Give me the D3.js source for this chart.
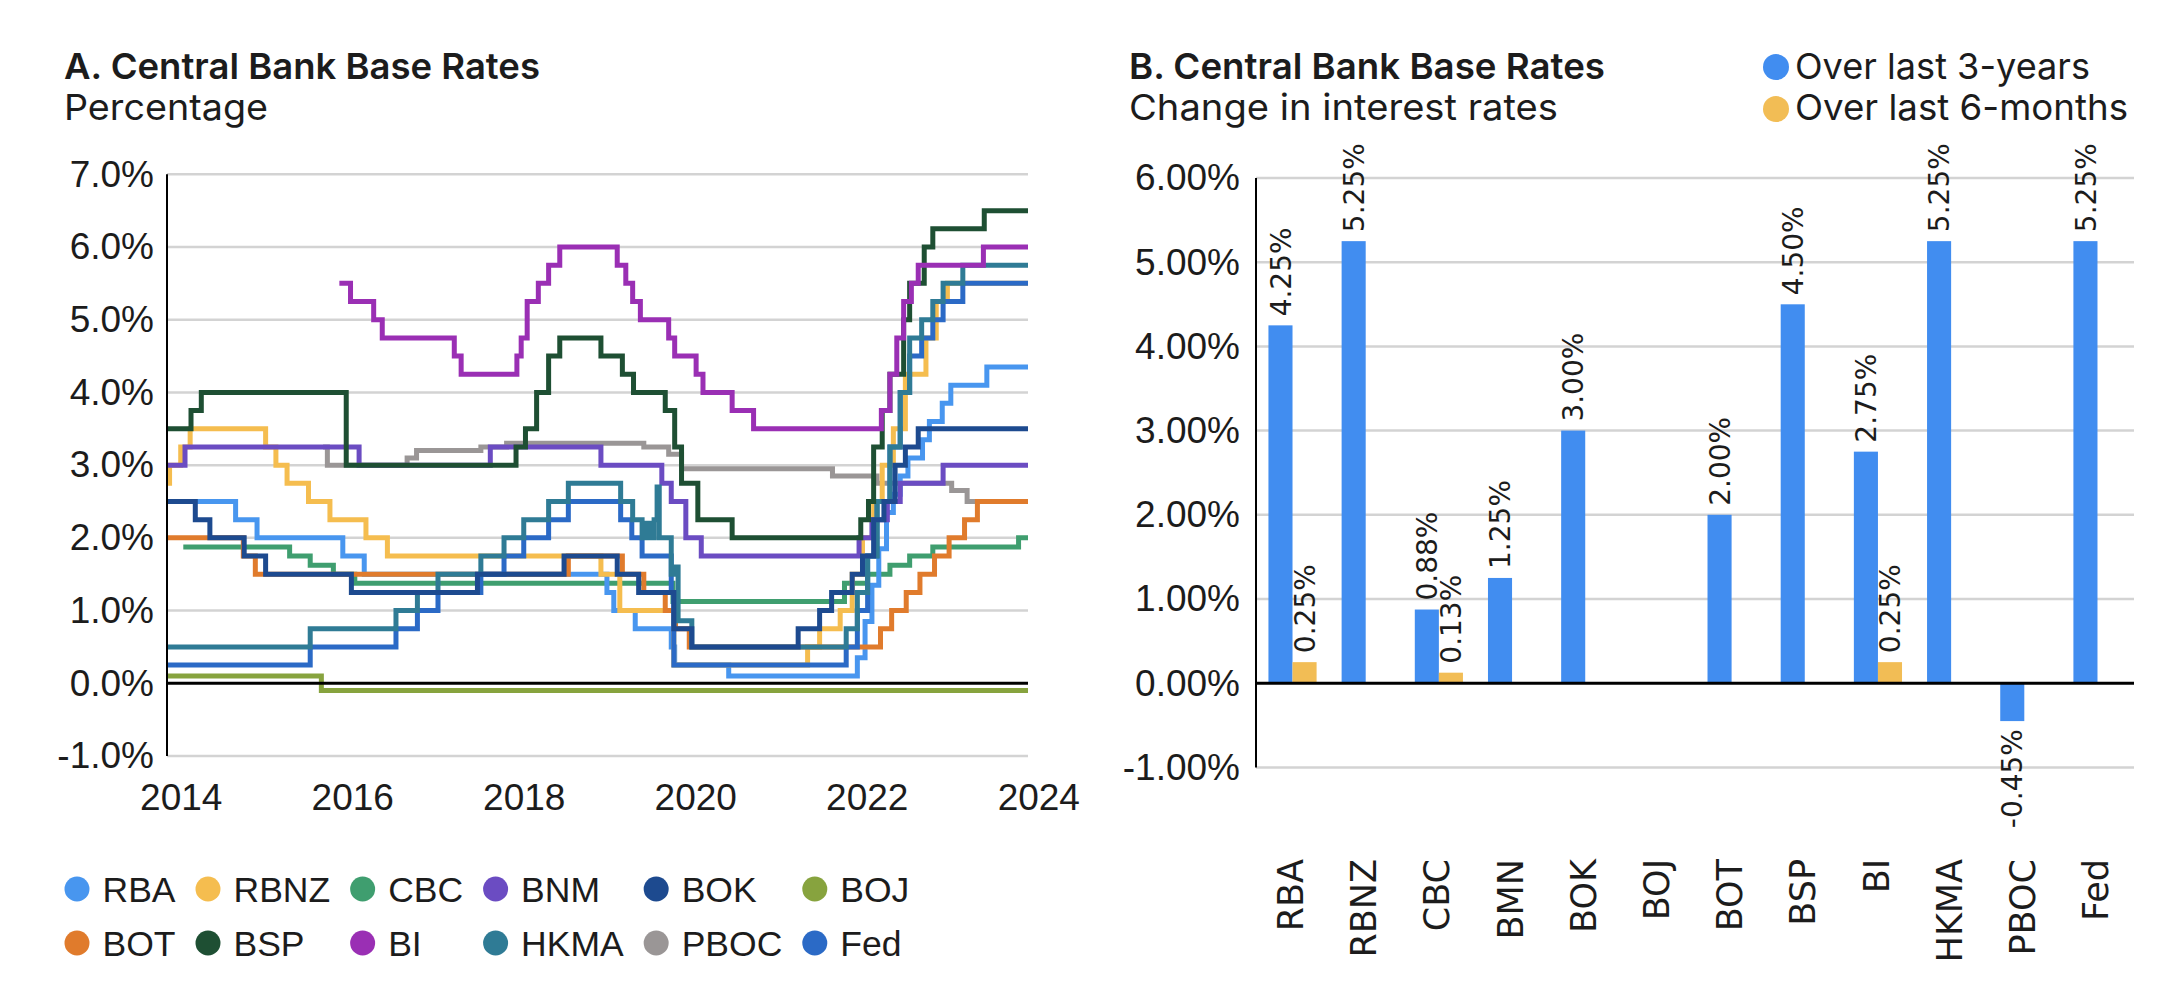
<!DOCTYPE html>
<html><head><meta charset="utf-8">
<script src="https://cdn.jsdelivr.net/npm/d3@7"></script>
<style>html,body{margin:0;padding:0;background:#fff}svg{display:block}</style>
</head><body>
<svg id="chart" width="2170" height="1005"></svg>
<script>
// ---------------- DATA ----------------
const banks = ["RBA","RBNZ","CBC","BNM","BOK","BOJ","BOT","BSP","BI","HKMA","PBOC","Fed"];
const bankColors = ["#4896ef","#f5bd4f","#3f9e6f","#6b4cc2","#1d4a8f","#87a33e","#e07b2c","#1e4f33","#9a2fb4","#2f7b95","#9a9696","#2b6ac6"];

// step series: [decimal year on chart axis, rate %]
const RBA  = [[2013.84,2.5],[2014.64,2.25],[2014.89,2.0],[2015.89,1.75],[2016.14,1.5],[2018.97,1.25],[2019.05,1.0],[2019.30,0.75],[2019.72,0.5],[2019.76,0.25],[2020.39,0.1],[2021.89,0.35],[2021.98,0.85],[2022.06,1.35],[2022.14,1.85],[2022.23,2.35],[2022.31,2.6],[2022.39,2.85],[2022.48,3.1],[2022.65,3.35],[2022.73,3.6],[2022.88,3.85],[2022.98,4.1],[2023.40,4.35]];
const RBNZ = [[2013.84,2.75],[2013.87,3.0],[2014.00,3.25],[2014.11,3.5],[2014.99,3.25],[2015.11,3.0],[2015.24,2.75],[2015.49,2.5],[2015.74,2.25],[2016.16,2.0],[2016.41,1.75],[2018.90,1.5],[2019.12,1.0],[2019.75,0.25],[2021.31,0.5],[2021.45,0.75],[2021.69,1.0],[2021.83,1.5],[2021.95,2.0],[2022.08,2.5],[2022.18,3.0],[2022.31,3.5],[2022.45,4.25],[2022.69,4.75],[2022.81,5.25],[2022.94,5.5]];
const CBC  = [[2014.03,1.875],[2015.27,1.75],[2015.51,1.625],[2015.78,1.5],[2016.03,1.375],[2019.74,1.125],[2021.74,1.375],[2022.01,1.5],[2022.27,1.625],[2022.50,1.75],[2022.77,1.875],[2023.77,2.0]];
const BNM  = [[2013.84,3.0],[2014.05,3.25],[2016.08,3.0],[2017.61,3.25],[2018.90,3.0],[2019.61,2.75],[2019.72,2.5],[2019.89,2.0],[2020.07,1.75],[2021.91,2.0],[2022.06,2.25],[2022.24,2.5],[2022.39,2.75],[2022.89,3.0]];
const BOK  = [[2013.84,2.5],[2014.17,2.25],[2014.34,2.0],[2014.74,1.75],[2014.99,1.5],[2015.99,1.25],[2017.46,1.5],[2018.47,1.75],[2019.09,1.5],[2019.34,1.25],[2019.75,0.75],[2019.96,0.5],[2021.20,0.75],[2021.45,1.0],[2021.59,1.25],[2021.83,1.5],[2021.95,1.75],[2022.08,2.25],[2022.20,2.5],[2022.33,3.0],[2022.45,3.25],[2022.60,3.5]];
const BOJ  = [[2013.84,0.1],[2015.64,-0.1]];
const BOT  = [[2013.84,2.0],[2014.73,1.75],[2014.87,1.5],[2018.52,1.75],[2019.15,1.5],[2019.40,1.25],[2019.65,1.0],[2019.77,0.75],[2019.93,0.5],[2022.16,0.75],[2022.29,1.0],[2022.46,1.25],[2022.62,1.5],[2022.79,1.75],[2022.96,2.0],[2023.14,2.25],[2023.29,2.5]];
const BSP  = [[2013.84,3.5],[2014.12,3.75],[2014.24,4.0],[2015.93,3.0],[2017.91,3.25],[2018.02,3.5],[2018.15,4.0],[2018.29,4.5],[2018.42,4.75],[2018.90,4.5],[2019.15,4.25],[2019.28,4.0],[2019.65,3.75],[2019.76,3.25],[2019.84,2.75],[2020.03,2.25],[2020.43,2.0],[2021.93,2.25],[2022.02,2.5],[2022.08,3.25],[2022.18,3.75],[2022.27,4.25],[2022.43,5.0],[2022.50,5.5],[2022.67,6.0],[2022.77,6.25],[2023.37,6.5]];
const BI   = [[2015.85,5.5],[2015.98,5.25],[2016.25,5.0],[2016.35,4.75],[2017.19,4.5],[2017.27,4.25],[2017.92,4.5],[2017.97,4.75],[2018.04,5.25],[2018.17,5.5],[2018.29,5.75],[2018.42,6.0],[2019.09,5.75],[2019.19,5.5],[2019.27,5.25],[2019.36,5.0],[2019.69,4.75],[2019.76,4.5],[2020.01,4.25],[2020.09,4.0],[2020.43,3.75],[2020.68,3.5],[2022.17,3.75],[2022.27,4.25],[2022.35,4.75],[2022.43,5.25],[2022.52,5.5],[2022.60,5.75],[2023.36,6.0]];
const HKMA = [[2013.84,0.5],[2015.51,0.75],[2016.51,1.0],[2016.76,1.25],[2017.00,1.5],[2017.50,1.75],[2017.77,2.0],[2018.00,2.25],[2018.29,2.5],[2018.52,2.75],[2019.13,2.5],[2019.27,2.25],[2019.38,2.0],[2019.43,2.2],[2019.47,2.0],[2019.52,2.25],[2019.555,2.7],[2019.58,2.0],[2019.72,1.5],[2019.765,1.6],[2019.80,0.86],[2019.96,0.5],[2021.76,0.75],[2021.89,1.25],[2022.01,1.75],[2022.12,2.5],[2022.27,3.25],[2022.39,4.0],[2022.50,4.75],[2022.64,5.0],[2022.77,5.25],[2022.89,5.5],[2023.12,5.75]];
const PBOC = [[2015.66,3.25],[2015.71,3.0],[2016.64,3.1],[2016.75,3.2],[2017.50,3.25],[2017.80,3.3],[2019.40,3.25],[2019.69,3.15],[2019.84,2.95],[2021.60,2.85],[2022.12,2.75],[2022.99,2.65],[2023.17,2.5]];
const Fed  = [[2013.84,0.25],[2015.51,0.5],[2016.51,0.75],[2016.76,1.0],[2017.00,1.25],[2017.50,1.5],[2017.77,1.75],[2018.00,2.0],[2018.29,2.25],[2018.52,2.5],[2019.13,2.25],[2019.26,2.0],[2019.38,1.75],[2019.72,1.25],[2019.75,0.25],[2021.76,0.5],[2021.89,1.0],[2022.01,1.75],[2022.12,2.5],[2022.27,3.25],[2022.39,4.0],[2022.50,4.5],[2022.64,4.75],[2022.77,5.0],[2022.89,5.25],[2023.12,5.5]];

const seriesByBank = {RBA, RBNZ, CBC, BNM, BOK, BOJ, BOT, BSP, BI, HKMA, PBOC, Fed};
const drawOrder = ["BOJ","PBOC","CBC","RBA","RBNZ","BOT","BNM","Fed","HKMA","BOK","BSP","BI"];
const xDomain = [2013.84, 2023.88];
const leftYTicks = [-1,0,1,2,3,4,5,6,7];
const leftXTicks = [2014,2016,2018,2020,2022,2024];

const barCategories = ["RBA","RBNZ","CBC","BMN","BOK","BOJ","BOT","BSP","BI","HKMA","PBOC","Fed"];
const change3y = [4.25,5.25,0.875,1.25,3.00,0,2.00,4.50,2.75,5.25,-0.45,5.25];
const change6m = [0.25,0,0.125,0,0,0,0,0,0.25,0,0,0];
const barSeries = ["Over last 3-years","Over last 6-months"];
const barColors = ["#418df0","#f2bd55"];
const rightYTicks = [-1,0,1,2,3,4,5,6];

// ---------------- DRAW ----------------
const svg = d3.select("#chart");
const TXT = "#1c1c1c";
const SANS = "'Liberation Sans', Arial, sans-serif";
const TITLE = "Inter, 'Liberation Sans', sans-serif";
const GEO = "'DejaVu Sans', sans-serif";
const GRID = "#d3d3d3";

function heading(x, title, sub, wT, wS){
  svg.append("text").attr("x",x).attr("y",79).attr("font-family",TITLE).attr("font-weight",600)
    .attr("font-size",36).attr("fill",TXT).attr("textLength",wT).attr("lengthAdjust","spacingAndGlyphs").text(title);
  svg.append("text").attr("x",x).attr("y",120).attr("font-family",TITLE).attr("font-weight",400)
    .attr("font-size",36).attr("fill",TXT).attr("textLength",wS).attr("lengthAdjust","spacingAndGlyphs").text(sub);
}

// ===== Chart A =====
heading(64, "A. Central Bank Base Rates", "Percentage", 476, 204);

const xL = d3.scaleLinear().domain(xDomain).range([167, 1028]);
const yL = d3.scaleLinear().domain([-1, 7]).range([756, 174.3]);

const gA = svg.append("g");
gA.selectAll("line.grid").data(leftYTicks.filter(d=>d!==0)).join("line")
  .attr("x1",xL.range()[0]).attr("x2",xL.range()[1])
  .attr("y1",d=>yL(d)).attr("y2",d=>yL(d))
  .attr("stroke",GRID).attr("stroke-width",2.5);

const axLeft = gA.append("g").attr("transform",`translate(${xL.range()[0]},0)`)
  .call(d3.axisLeft(yL).tickValues(leftYTicks).tickSize(0).tickPadding(13).tickFormat(d=>d.toFixed(1)+"%"));
axLeft.select(".domain").remove();
axLeft.selectAll("text").attr("font-family",SANS).attr("font-size",37).attr("fill",TXT);

const axBottom = gA.append("g").attr("transform",`translate(0,${yL(-1)})`)
  .call(d3.axisBottom(xL).tickValues(leftXTicks).tickSize(0).tickPadding(28).tickFormat(d3.format("d")));
axBottom.select(".domain").remove();
axBottom.selectAll("text").attr("font-family",SANS).attr("font-size",37).attr("fill",TXT);

const line = d3.line().x(d=>xL(d[0])).y(d=>yL(d[1])).curve(d3.curveStepAfter);
const gLines = gA.append("g");
drawOrder.forEach(b=>{
  const s = seriesByBank[b];
  const pts = s.concat([[xDomain[1], s[s.length-1][1]]]);
  gLines.append("path").datum(pts).attr("d",line).attr("fill","none")
    .attr("stroke",bankColors[banks.indexOf(b)]).attr("stroke-width",5)
    .attr("stroke-linejoin","miter").attr("stroke-linecap","butt");
});

gA.append("line").attr("x1",xL.range()[0]).attr("x2",xL.range()[1]).attr("y1",yL(0)).attr("y2",yL(0))
  .attr("stroke","#000").attr("stroke-width",3);
gA.append("line").attr("x1",xL.range()[0]).attr("x2",xL.range()[0]).attr("y1",yL(7)).attr("y2",yL(-1))
  .attr("stroke","#000").attr("stroke-width",2);

// legend A
const legRows = [banks.slice(0,6), banks.slice(6)];
const rowY = [889, 943];
const gLeg = svg.append("g");
let cx = 77;
for (let c = 0; c < 6; c++) {
  let maxW = 0;
  legRows.forEach((row, r) => {
    const b = row[c];
    gLeg.append("circle").attr("cx",cx).attr("cy",rowY[r]).attr("r",12.5).attr("fill",bankColors[banks.indexOf(b)]);
    const t = gLeg.append("text").attr("x",cx+25.5).attr("y",rowY[r]).attr("dy","0.36em")
      .attr("font-family",SANS).attr("font-size",35.5).attr("fill",TXT).text(b);
    maxW = Math.max(maxW, t.node().getComputedTextLength());
  });
  cx += maxW + 58;
}

// ===== Chart B =====
heading(1129, "B. Central Bank Base Rates", "Change in interest rates", 476, 429);

// legend B
barSeries.forEach((s,i)=>{
  const y = i===0 ? 67 : 109;
  svg.append("circle").attr("cx",1776).attr("cy",y).attr("r",13).attr("fill",barColors[i]);
  svg.append("text").attr("x",1795).attr("y",i===0?79:120).attr("font-family",TITLE).attr("font-size",36)
    .attr("fill",TXT).attr("textLength", i===0?295:333).attr("lengthAdjust","spacingAndGlyphs").text(s);
});

const yR = d3.scaleLinear().domain([-1, 6]).range([767.4, 178]);
const xB = d3.scaleBand().domain(barCategories).range([1256, 2134]).paddingInner(0.342).paddingOuter(0.17);
const x1 = d3.scaleBand().domain(barSeries).range([0, xB.bandwidth()]).padding(0);

const gB = svg.append("g");
gB.selectAll("line.grid").data(rightYTicks.filter(d=>d!==0)).join("line")
  .attr("x1",xB.range()[0]).attr("x2",xB.range()[1])
  .attr("y1",d=>yR(d)).attr("y2",d=>yR(d))
  .attr("stroke",GRID).attr("stroke-width",2.5);

const axR = gB.append("g").attr("transform",`translate(${xB.range()[0]},0)`)
  .call(d3.axisLeft(yR).tickValues(rightYTicks).tickSize(0).tickPadding(16).tickFormat(d=>d.toFixed(2)+"%"));
axR.select(".domain").remove();
axR.selectAll("text").attr("font-family",SANS).attr("font-size",37).attr("fill",TXT);

const barRows = barCategories.map((c,i)=>({cat:c, vals:[change3y[i], change6m[i]]}));
barRows.forEach(row=>{
  row.vals.forEach((v,j)=>{
    if (v === 0) return;
    const x = xB(row.cat) + x1(barSeries[j]);
    const w = x1.bandwidth();
    gB.append("rect").attr("x",x).attr("width",w)
      .attr("y",yR(Math.max(0,v))).attr("height",Math.abs(yR(v)-yR(0)))
      .attr("fill",barColors[j]);
    const cxl = x + w/2;
    const yl = v > 0 ? yR(v) - 9 : yR(v) + 8;
    gB.append("text").attr("transform",`translate(${cxl},${yl}) rotate(-90)`)
      .attr("text-anchor", v > 0 ? "start" : "end").attr("dy","0.36em")
      .attr("font-family",GEO).attr("font-size",28).attr("fill",TXT)
      .text(v.toFixed(2)+"%");
  });
});

gB.append("line").attr("x1",xB.range()[0]).attr("x2",xB.range()[1]).attr("y1",yR(0)).attr("y2",yR(0))
  .attr("stroke","#000").attr("stroke-width",3);
gB.append("line").attr("x1",xB.range()[0]).attr("x2",xB.range()[0]).attr("y1",yR(6)).attr("y2",yR(-1))
  .attr("stroke","#000").attr("stroke-width",2);

gB.selectAll("text.cat").data(barCategories).join("text")
  .attr("transform",d=>`translate(${xB(d)+xB.bandwidth()/2 - 2},859) rotate(-90)`)
  .attr("text-anchor","end").attr("dy","0.36em")
  .attr("font-family",GEO).attr("font-size",35).attr("fill",TXT).text(d=>d);
</script>
</body></html>
